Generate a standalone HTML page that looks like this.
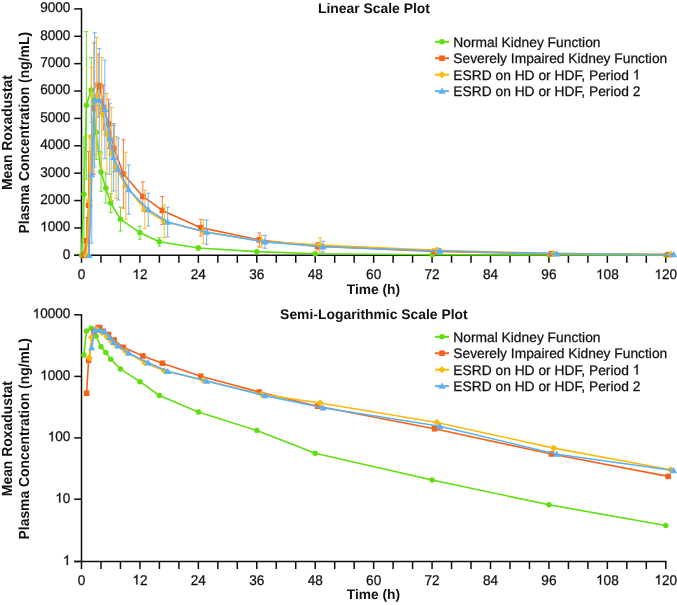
<!DOCTYPE html>
<html><head><meta charset="utf-8"><style>
html,body{margin:0;padding:0;background:#fff;overflow:hidden;width:677px;height:605px;}
svg{display:block;will-change:transform;}
text{font-family:"Liberation Sans",sans-serif;fill:#111;text-rendering:geometricPrecision;}
.tk{font-size:13.6px;stroke:#111;stroke-width:0.25px;}
.lg{font-size:13.8px;stroke:#111;stroke-width:0.25px;}
.bd{font-size:13.8px;font-weight:bold;}
.ti{font-size:13.9px;font-weight:bold;}
.yl{font-size:13.9px;font-weight:bold;}
</style></head><body>
<svg width="677" height="605" viewBox="0 0 677 605">
<rect width="677" height="605" fill="#fff"/>
<line x1="81.5" y1="8.15" x2="81.5" y2="256.05" stroke="#0d0d0d" stroke-width="1.5"/>
<line x1="74.2" y1="8.9" x2="81.5" y2="8.9" stroke="#0d0d0d" stroke-width="1.5"/>
<text transform="translate(40.15 12.30) scale(1 1.04)" class="tk">9000</text>
<line x1="74.2" y1="36.278" x2="81.5" y2="36.278" stroke="#0d0d0d" stroke-width="1.5"/>
<text transform="translate(40.15 39.68) scale(1 1.04)" class="tk">8000</text>
<line x1="74.2" y1="63.656" x2="81.5" y2="63.656" stroke="#0d0d0d" stroke-width="1.5"/>
<text transform="translate(40.15 67.06) scale(1 1.04)" class="tk">7000</text>
<line x1="74.2" y1="91.034" x2="81.5" y2="91.034" stroke="#0d0d0d" stroke-width="1.5"/>
<text transform="translate(40.15 94.43) scale(1 1.04)" class="tk">6000</text>
<line x1="74.2" y1="118.412" x2="81.5" y2="118.412" stroke="#0d0d0d" stroke-width="1.5"/>
<text transform="translate(40.15 121.81) scale(1 1.04)" class="tk">5000</text>
<line x1="74.2" y1="145.79" x2="81.5" y2="145.79" stroke="#0d0d0d" stroke-width="1.5"/>
<text transform="translate(40.15 149.19) scale(1 1.04)" class="tk">4000</text>
<line x1="74.2" y1="173.168" x2="81.5" y2="173.168" stroke="#0d0d0d" stroke-width="1.5"/>
<text transform="translate(40.15 176.57) scale(1 1.04)" class="tk">3000</text>
<line x1="74.2" y1="200.54600000000002" x2="81.5" y2="200.54600000000002" stroke="#0d0d0d" stroke-width="1.5"/>
<text transform="translate(40.15 203.95) scale(1 1.04)" class="tk">2000</text>
<line x1="74.2" y1="227.924" x2="81.5" y2="227.924" stroke="#0d0d0d" stroke-width="1.5"/>
<text transform="translate(40.15 231.32) scale(1 1.04)" class="tk"> 000</text>
<path transform="translate(40.15 231.32) scale(0.00664 -0.00664)" d="M763 0L583 0L583 1147Q518 1085 412.5 1023Q307 961 223 930L223 1104Q374 1175 487 1276Q600 1377 647 1472L763 1472Z" fill="#111" stroke="#111" stroke-width="40"/>
<line x1="74.2" y1="255.302" x2="81.5" y2="255.302" stroke="#0d0d0d" stroke-width="1.5"/>
<text transform="translate(62.84 258.70) scale(1 1.04)" class="tk">0</text>
<line x1="74.2" y1="255.3" x2="666.53" y2="255.3" stroke="#0d0d0d" stroke-width="1.5"/>
<line x1="81.50" y1="255.3" x2="81.50" y2="262.8" stroke="#0d0d0d" stroke-width="1.5"/>
<text transform="translate(77.72 278.90) scale(1 1.04)" class="tk">0</text>
<line x1="100.98" y1="255.3" x2="100.98" y2="262.8" stroke="#0d0d0d" stroke-width="1.5"/>
<line x1="120.45" y1="255.3" x2="120.45" y2="262.8" stroke="#0d0d0d" stroke-width="1.5"/>
<line x1="139.93" y1="255.3" x2="139.93" y2="262.8" stroke="#0d0d0d" stroke-width="1.5"/>
<text transform="translate(132.36 278.90) scale(1 1.04)" class="tk"> 2</text>
<path transform="translate(132.36 278.90) scale(0.00664 -0.00664)" d="M763 0L583 0L583 1147Q518 1085 412.5 1023Q307 961 223 930L223 1104Q374 1175 487 1276Q600 1377 647 1472L763 1472Z" fill="#111" stroke="#111" stroke-width="40"/>
<line x1="159.40" y1="255.3" x2="159.40" y2="262.8" stroke="#0d0d0d" stroke-width="1.5"/>
<line x1="178.88" y1="255.3" x2="178.88" y2="262.8" stroke="#0d0d0d" stroke-width="1.5"/>
<line x1="198.36" y1="255.3" x2="198.36" y2="262.8" stroke="#0d0d0d" stroke-width="1.5"/>
<text transform="translate(190.79 278.90) scale(1 1.04)" class="tk">24</text>
<line x1="217.83" y1="255.3" x2="217.83" y2="262.8" stroke="#0d0d0d" stroke-width="1.5"/>
<line x1="237.31" y1="255.3" x2="237.31" y2="262.8" stroke="#0d0d0d" stroke-width="1.5"/>
<line x1="256.78" y1="255.3" x2="256.78" y2="262.8" stroke="#0d0d0d" stroke-width="1.5"/>
<text transform="translate(249.22 278.90) scale(1 1.04)" class="tk">36</text>
<line x1="276.26" y1="255.3" x2="276.26" y2="262.8" stroke="#0d0d0d" stroke-width="1.5"/>
<line x1="295.74" y1="255.3" x2="295.74" y2="262.8" stroke="#0d0d0d" stroke-width="1.5"/>
<line x1="315.21" y1="255.3" x2="315.21" y2="262.8" stroke="#0d0d0d" stroke-width="1.5"/>
<text transform="translate(307.65 278.90) scale(1 1.04)" class="tk">48</text>
<line x1="334.69" y1="255.3" x2="334.69" y2="262.8" stroke="#0d0d0d" stroke-width="1.5"/>
<line x1="354.16" y1="255.3" x2="354.16" y2="262.8" stroke="#0d0d0d" stroke-width="1.5"/>
<line x1="373.64" y1="255.3" x2="373.64" y2="262.8" stroke="#0d0d0d" stroke-width="1.5"/>
<text transform="translate(366.08 278.90) scale(1 1.04)" class="tk">60</text>
<line x1="393.12" y1="255.3" x2="393.12" y2="262.8" stroke="#0d0d0d" stroke-width="1.5"/>
<line x1="412.59" y1="255.3" x2="412.59" y2="262.8" stroke="#0d0d0d" stroke-width="1.5"/>
<line x1="432.07" y1="255.3" x2="432.07" y2="262.8" stroke="#0d0d0d" stroke-width="1.5"/>
<text transform="translate(424.50 278.90) scale(1 1.04)" class="tk">72</text>
<line x1="451.54" y1="255.3" x2="451.54" y2="262.8" stroke="#0d0d0d" stroke-width="1.5"/>
<line x1="471.02" y1="255.3" x2="471.02" y2="262.8" stroke="#0d0d0d" stroke-width="1.5"/>
<line x1="490.50" y1="255.3" x2="490.50" y2="262.8" stroke="#0d0d0d" stroke-width="1.5"/>
<text transform="translate(482.93 278.90) scale(1 1.04)" class="tk">84</text>
<line x1="509.97" y1="255.3" x2="509.97" y2="262.8" stroke="#0d0d0d" stroke-width="1.5"/>
<line x1="529.45" y1="255.3" x2="529.45" y2="262.8" stroke="#0d0d0d" stroke-width="1.5"/>
<line x1="548.92" y1="255.3" x2="548.92" y2="262.8" stroke="#0d0d0d" stroke-width="1.5"/>
<text transform="translate(541.36 278.90) scale(1 1.04)" class="tk">96</text>
<line x1="568.40" y1="255.3" x2="568.40" y2="262.8" stroke="#0d0d0d" stroke-width="1.5"/>
<line x1="587.88" y1="255.3" x2="587.88" y2="262.8" stroke="#0d0d0d" stroke-width="1.5"/>
<line x1="607.35" y1="255.3" x2="607.35" y2="262.8" stroke="#0d0d0d" stroke-width="1.5"/>
<text transform="translate(596.01 278.90) scale(1 1.04)" class="tk"> 08</text>
<path transform="translate(596.01 278.90) scale(0.00664 -0.00664)" d="M763 0L583 0L583 1147Q518 1085 412.5 1023Q307 961 223 930L223 1104Q374 1175 487 1276Q600 1377 647 1472L763 1472Z" fill="#111" stroke="#111" stroke-width="40"/>
<line x1="626.83" y1="255.3" x2="626.83" y2="262.8" stroke="#0d0d0d" stroke-width="1.5"/>
<line x1="646.30" y1="255.3" x2="646.30" y2="262.8" stroke="#0d0d0d" stroke-width="1.5"/>
<line x1="665.78" y1="255.3" x2="665.78" y2="262.8" stroke="#0d0d0d" stroke-width="1.5"/>
<text transform="translate(654.43 278.90) scale(1 1.04)" class="tk"> 20</text>
<path transform="translate(654.43 278.90) scale(0.00664 -0.00664)" d="M763 0L583 0L583 1147Q518 1085 412.5 1023Q307 961 223 930L223 1104Q374 1175 487 1276Q600 1377 647 1472L763 1472Z" fill="#111" stroke="#111" stroke-width="40"/>
<text transform="translate(373.44 294.00) scale(1 1.0)" text-anchor="middle" class="bd">Time (h)</text>
<text transform="translate(373.90 12.50) scale(1 1.0)" text-anchor="middle" class="ti">Linear Scale Plot</text>
<text transform="translate(12.10 132.60) rotate(-90) scale(1 1.05)" text-anchor="middle" class="yl">Mean Roxadustat</text>
<text transform="translate(29.20 132.70) rotate(-90) scale(1 1.05)" text-anchor="middle" class="yl">Plasma Concentration (ng/mL)</text>
<path d="M83.93 137.03V251.47M81.93 137.03H85.93M81.93 251.47H85.93" stroke="#6ce02a" stroke-width="1" fill="none"/>
<path d="M86.37 31.62V178.92M84.37 31.62H88.37M84.37 178.92H88.37" stroke="#6ce02a" stroke-width="1" fill="none"/>
<path d="M91.24 57.63V122.24M89.24 57.63H93.24M89.24 122.24H93.24" stroke="#6ce02a" stroke-width="1" fill="none"/>
<path d="M96.11 105.41V159.34M94.11 105.41H98.11M94.11 159.34H98.11" stroke="#6ce02a" stroke-width="1" fill="none"/>
<path d="M100.98 152.91V191.24M98.98 152.91H102.98M98.98 191.24H102.98" stroke="#6ce02a" stroke-width="1" fill="none"/>
<path d="M105.84 172.89V203.01M103.84 172.89H107.84M103.84 203.01H107.84" stroke="#6ce02a" stroke-width="1" fill="none"/>
<path d="M110.71 193.48V212.54M108.71 193.48H112.71M108.71 212.54H112.71" stroke="#6ce02a" stroke-width="1" fill="none"/>
<path d="M120.45 207.22V231.10M118.45 207.22H122.45M118.45 231.10H122.45" stroke="#6ce02a" stroke-width="1" fill="none"/>
<path d="M139.93 226.22V239.20M137.93 226.22H141.93M137.93 239.20H141.93" stroke="#6ce02a" stroke-width="1" fill="none"/>
<path d="M159.40 237.59V246.07M157.40 237.59H161.40M157.40 246.07H161.40" stroke="#6ce02a" stroke-width="1" fill="none"/>
<path d="M198.36 245.96V250.07M196.36 245.96H200.36M196.36 250.07H200.36" stroke="#6ce02a" stroke-width="1" fill="none"/>
<path d="M256.78 250.43V252.89M254.78 250.43H258.78M254.78 252.89H258.78" stroke="#6ce02a" stroke-width="1" fill="none"/>
<path d="M315.21 253.06V254.42M313.21 253.06H317.21M313.21 254.42H317.21" stroke="#6ce02a" stroke-width="1" fill="none"/>
<path d="M432.07 254.45V255.00M430.07 254.45H434.07M430.07 255.00H434.07" stroke="#6ce02a" stroke-width="1" fill="none"/>
<path d="M548.92 254.96V255.18M546.92 254.96H550.92M546.92 255.18H550.92" stroke="#6ce02a" stroke-width="1" fill="none"/>
<path d="M665.78 255.14V255.25M663.78 255.14H667.78M663.78 255.25H667.78" stroke="#6ce02a" stroke-width="1" fill="none"/>
<polyline points="81.50,255.30 83.93,194.25 86.37,105.27 91.24,89.94 96.11,132.37 100.98,172.07 105.84,187.95 110.71,203.01 120.45,219.16 139.93,232.71 159.40,241.83 198.36,248.02 256.78,251.66 315.21,253.74 432.07,254.73 548.92,255.07 665.78,255.19" fill="none" stroke="#60de10" stroke-width="1.6" stroke-linejoin="round"/>
<circle cx="81.50" cy="255.30" r="2.75" fill="#60de10"/>
<circle cx="83.93" cy="194.25" r="2.75" fill="#60de10"/>
<circle cx="86.37" cy="105.27" r="2.75" fill="#60de10"/>
<circle cx="91.24" cy="89.94" r="2.75" fill="#60de10"/>
<circle cx="96.11" cy="132.37" r="2.75" fill="#60de10"/>
<circle cx="100.98" cy="172.07" r="2.75" fill="#60de10"/>
<circle cx="105.84" cy="187.95" r="2.75" fill="#60de10"/>
<circle cx="110.71" cy="203.01" r="2.75" fill="#60de10"/>
<circle cx="120.45" cy="219.16" r="2.75" fill="#60de10"/>
<circle cx="139.93" cy="232.71" r="2.75" fill="#60de10"/>
<circle cx="159.40" cy="241.83" r="2.75" fill="#60de10"/>
<circle cx="198.36" cy="248.02" r="2.75" fill="#60de10"/>
<circle cx="256.78" cy="251.66" r="2.75" fill="#60de10"/>
<circle cx="315.21" cy="253.74" r="2.75" fill="#60de10"/>
<circle cx="432.07" cy="254.73" r="2.75" fill="#60de10"/>
<circle cx="548.92" cy="255.07" r="2.75" fill="#60de10"/>
<circle cx="665.78" cy="255.19" r="2.75" fill="#60de10"/>
<path d="M86.61 217.38V255.30M84.61 217.38H88.61M84.61 255.30H88.61" stroke="#f57a45" stroke-width="1" fill="none"/>
<path d="M88.56 151.40V255.30M86.56 151.40H90.56M86.56 255.30H90.56" stroke="#f57a45" stroke-width="1" fill="none"/>
<path d="M93.92 42.85V174.26M91.92 42.85H95.92M91.92 174.26H95.92" stroke="#f57a45" stroke-width="1" fill="none"/>
<path d="M98.15 54.07V117.04M96.15 54.07H100.15M96.15 117.04H100.15" stroke="#f57a45" stroke-width="1" fill="none"/>
<path d="M103.41 85.01V129.91M101.41 85.01H105.41M101.41 129.91H105.41" stroke="#f57a45" stroke-width="1" fill="none"/>
<path d="M108.52 99.25V148.53M106.52 99.25H110.52M106.52 148.53H110.52" stroke="#f57a45" stroke-width="1" fill="none"/>
<path d="M114.12 125.25V171.80M112.12 125.25H116.12M112.12 171.80H116.12" stroke="#f57a45" stroke-width="1" fill="none"/>
<path d="M123.37 139.76V208.21M121.37 139.76H125.37M121.37 208.21H125.37" stroke="#f57a45" stroke-width="1" fill="none"/>
<path d="M142.85 181.87V211.00M140.85 181.87H144.85M140.85 211.00H144.85" stroke="#f57a45" stroke-width="1" fill="none"/>
<path d="M162.33 196.44V224.36M160.33 196.44H164.33M160.33 224.36H164.33" stroke="#f57a45" stroke-width="1" fill="none"/>
<path d="M200.79 219.27V236.03M198.79 219.27H202.79M198.79 236.03H202.79" stroke="#f57a45" stroke-width="1" fill="none"/>
<path d="M259.22 232.93V247.00M257.22 232.93H261.22M257.22 247.00H261.22" stroke="#f57a45" stroke-width="1" fill="none"/>
<path d="M317.65 242.57V249.96M315.65 242.57H319.65M315.65 249.96H319.65" stroke="#f57a45" stroke-width="1" fill="none"/>
<path d="M434.50 249.77V253.06M432.50 249.77H436.50M432.50 253.06H436.50" stroke="#f57a45" stroke-width="1" fill="none"/>
<path d="M551.36 253.10V254.47M549.36 253.10H553.36M549.36 254.47H553.36" stroke="#f57a45" stroke-width="1" fill="none"/>
<path d="M668.21 254.37V254.92M666.21 254.37H670.21M666.21 254.92H670.21" stroke="#f57a45" stroke-width="1" fill="none"/>
<polyline points="83.93,255.30 86.61,240.65 88.56,205.20 93.92,108.55 98.15,85.56 99.76,86.10 103.41,107.46 108.52,123.89 114.12,148.53 123.37,173.99 142.85,196.44 162.33,210.40 200.79,227.65 259.22,239.97 317.65,246.27 434.50,251.41 551.36,253.78 668.21,254.64" fill="none" stroke="#f5621c" stroke-width="1.6" stroke-linejoin="round"/>
<rect x="81.13" y="252.50" width="5.60" height="5.60" fill="#f5621c"/>
<rect x="83.81" y="237.85" width="5.60" height="5.60" fill="#f5621c"/>
<rect x="85.76" y="202.40" width="5.60" height="5.60" fill="#f5621c"/>
<rect x="91.12" y="105.75" width="5.60" height="5.60" fill="#f5621c"/>
<rect x="95.35" y="82.76" width="5.60" height="5.60" fill="#f5621c"/>
<rect x="96.96" y="83.30" width="5.60" height="5.60" fill="#f5621c"/>
<rect x="100.61" y="104.66" width="5.60" height="5.60" fill="#f5621c"/>
<rect x="105.72" y="121.09" width="5.60" height="5.60" fill="#f5621c"/>
<rect x="111.32" y="145.73" width="5.60" height="5.60" fill="#f5621c"/>
<rect x="120.57" y="171.19" width="5.60" height="5.60" fill="#f5621c"/>
<rect x="140.05" y="193.64" width="5.60" height="5.60" fill="#f5621c"/>
<rect x="159.53" y="207.60" width="5.60" height="5.60" fill="#f5621c"/>
<rect x="197.99" y="224.85" width="5.60" height="5.60" fill="#f5621c"/>
<rect x="256.42" y="237.17" width="5.60" height="5.60" fill="#f5621c"/>
<rect x="314.85" y="243.47" width="5.60" height="5.60" fill="#f5621c"/>
<rect x="431.70" y="248.61" width="5.60" height="5.60" fill="#f5621c"/>
<rect x="548.56" y="250.98" width="5.60" height="5.60" fill="#f5621c"/>
<rect x="665.41" y="251.84" width="5.60" height="5.60" fill="#f5621c"/>
<path d="M89.29 135.22V255.30M87.29 135.22H91.29M87.29 255.30H91.29" stroke="#ffbd28" stroke-width="1" fill="none"/>
<path d="M91.48 67.49V206.02M89.48 67.49H93.48M89.48 206.02H93.48" stroke="#ffbd28" stroke-width="1" fill="none"/>
<path d="M96.59 37.37V154.55M94.59 37.37H98.59M94.59 154.55H98.59" stroke="#ffbd28" stroke-width="1" fill="none"/>
<path d="M101.71 57.63V168.24M99.71 57.63H103.71M99.71 168.24H103.71" stroke="#ffbd28" stroke-width="1" fill="none"/>
<path d="M106.82 93.50V174.53M104.82 93.50H108.82M104.82 174.53H108.82" stroke="#ffbd28" stroke-width="1" fill="none"/>
<path d="M111.69 107.46V200.54M109.69 107.46H113.69M109.69 200.54H113.69" stroke="#ffbd28" stroke-width="1" fill="none"/>
<path d="M116.07 136.48V198.35M114.07 136.48H118.07M114.07 198.35H118.07" stroke="#ffbd28" stroke-width="1" fill="none"/>
<path d="M125.81 152.28V219.24M123.81 152.28H127.81M123.81 219.24H127.81" stroke="#ffbd28" stroke-width="1" fill="none"/>
<path d="M144.80 190.41V228.74M142.80 190.41H146.80M142.80 228.74H146.80" stroke="#ffbd28" stroke-width="1" fill="none"/>
<path d="M164.27 204.98V237.83M162.27 204.98H166.27M162.27 237.83H166.27" stroke="#ffbd28" stroke-width="1" fill="none"/>
<path d="M203.22 219.60V243.36M201.22 219.60H205.22M201.22 243.36H205.22" stroke="#ffbd28" stroke-width="1" fill="none"/>
<path d="M261.65 235.34V247.11M259.65 235.34H263.65M259.65 247.11H263.65" stroke="#ffbd28" stroke-width="1" fill="none"/>
<path d="M320.08 238.05V252.18M318.08 238.05H322.08M318.08 252.18H322.08" stroke="#ffbd28" stroke-width="1" fill="none"/>
<path d="M436.94 247.91V252.84M434.94 247.91H438.94M434.94 252.84H438.94" stroke="#ffbd28" stroke-width="1" fill="none"/>
<path d="M553.79 252.59V254.23M551.79 252.59H555.79M551.79 254.23H555.79" stroke="#ffbd28" stroke-width="1" fill="none"/>
<path d="M670.65 254.05V254.87M668.65 254.05H672.65M668.65 254.87H672.65" stroke="#ffbd28" stroke-width="1" fill="none"/>
<polyline points="86.37,255.30 89.29,200.27 91.48,136.75 96.59,95.96 101.71,112.93 106.82,134.02 111.69,154.00 116.07,167.42 125.81,185.76 144.80,209.58 164.27,221.41 203.22,231.48 261.65,241.23 320.08,245.12 436.94,250.37 553.79,253.41 670.65,254.46" fill="none" stroke="#fbb90c" stroke-width="1.6" stroke-linejoin="round"/>
<path d="M86.37 251.70L89.97 255.30L86.37 258.90L82.77 255.30Z" fill="#fbb90c"/>
<path d="M89.29 196.67L92.89 200.27L89.29 203.87L85.69 200.27Z" fill="#fbb90c"/>
<path d="M91.48 133.15L95.08 136.75L91.48 140.35L87.88 136.75Z" fill="#fbb90c"/>
<path d="M96.59 92.36L100.19 95.96L96.59 99.56L92.99 95.96Z" fill="#fbb90c"/>
<path d="M101.71 109.33L105.31 112.93L101.71 116.53L98.11 112.93Z" fill="#fbb90c"/>
<path d="M106.82 130.42L110.42 134.02L106.82 137.62L103.22 134.02Z" fill="#fbb90c"/>
<path d="M111.69 150.40L115.29 154.00L111.69 157.60L108.09 154.00Z" fill="#fbb90c"/>
<path d="M116.07 163.82L119.67 167.42L116.07 171.02L112.47 167.42Z" fill="#fbb90c"/>
<path d="M125.81 182.16L129.41 185.76L125.81 189.36L122.21 185.76Z" fill="#fbb90c"/>
<path d="M144.80 205.98L148.40 209.58L144.80 213.18L141.20 209.58Z" fill="#fbb90c"/>
<path d="M164.27 217.81L167.87 221.41L164.27 225.01L160.67 221.41Z" fill="#fbb90c"/>
<path d="M203.22 227.88L206.82 231.48L203.22 235.08L199.62 231.48Z" fill="#fbb90c"/>
<path d="M261.65 237.63L265.25 241.23L261.65 244.83L258.05 241.23Z" fill="#fbb90c"/>
<path d="M320.08 241.52L323.68 245.12L320.08 248.72L316.48 245.12Z" fill="#fbb90c"/>
<path d="M436.94 246.77L440.54 250.37L436.94 253.97L433.34 250.37Z" fill="#fbb90c"/>
<path d="M553.79 249.81L557.39 253.41L553.79 257.01L550.19 253.41Z" fill="#fbb90c"/>
<path d="M670.65 250.86L674.25 254.46L670.65 258.06L667.05 254.46Z" fill="#fbb90c"/>
<path d="M91.72 106.09V242.98M89.72 106.09H93.72M89.72 242.98H93.72" stroke="#6cb4f5" stroke-width="1" fill="none"/>
<path d="M94.65 32.72V166.87M92.65 32.72H96.65M92.65 166.87H96.65" stroke="#6cb4f5" stroke-width="1" fill="none"/>
<path d="M99.27 48.60V151.54M97.27 48.60H101.27M97.27 151.54H101.27" stroke="#6cb4f5" stroke-width="1" fill="none"/>
<path d="M104.87 60.09V158.66M102.87 60.09H106.87M102.87 158.66H106.87" stroke="#6cb4f5" stroke-width="1" fill="none"/>
<path d="M109.74 103.08V174.26M107.74 103.08H111.74M107.74 174.26H111.74" stroke="#6cb4f5" stroke-width="1" fill="none"/>
<path d="M113.64 123.61V190.96M111.64 123.61H115.64M111.64 190.96H115.64" stroke="#6cb4f5" stroke-width="1" fill="none"/>
<path d="M118.26 138.12V200.00M116.26 138.12H120.26M116.26 200.00H120.26" stroke="#6cb4f5" stroke-width="1" fill="none"/>
<path d="M128.73 165.03V214.15M126.73 165.03H130.73M126.73 214.15H130.73" stroke="#6cb4f5" stroke-width="1" fill="none"/>
<path d="M148.21 193.15V226.01M146.21 193.15H150.21M146.21 226.01H150.21" stroke="#6cb4f5" stroke-width="1" fill="none"/>
<path d="M167.68 207.20V236.77M165.68 207.20H169.68M165.68 236.77H169.68" stroke="#6cb4f5" stroke-width="1" fill="none"/>
<path d="M206.63 219.98V244.35M204.63 219.98H208.63M204.63 244.35H208.63" stroke="#6cb4f5" stroke-width="1" fill="none"/>
<path d="M265.06 235.45V248.32M263.06 235.45H267.06M263.06 248.32H267.06" stroke="#6cb4f5" stroke-width="1" fill="none"/>
<path d="M323.00 241.31V252.26M321.00 241.31H325.00M321.00 252.26H325.00" stroke="#6cb4f5" stroke-width="1" fill="none"/>
<path d="M439.86 248.84V253.22M437.86 248.84H441.86M437.86 253.22H441.86" stroke="#6cb4f5" stroke-width="1" fill="none"/>
<path d="M556.71 252.97V254.62M554.71 252.97H558.71M554.71 254.62H558.71" stroke="#6cb4f5" stroke-width="1" fill="none"/>
<path d="M673.57 254.07V254.89M671.57 254.07H675.57M671.57 254.89H675.57" stroke="#6cb4f5" stroke-width="1" fill="none"/>
<polyline points="89.05,255.30 91.72,174.53 94.65,99.79 99.27,100.07 104.87,109.38 109.74,138.67 113.64,157.29 118.26,169.06 128.73,189.59 148.21,209.58 167.68,221.98 206.63,232.17 265.06,241.88 323.00,246.79 439.86,251.03 556.71,253.79 673.57,254.48" fill="none" stroke="#5cb0f5" stroke-width="1.6" stroke-linejoin="round"/>
<path d="M89.05 251.70L92.65 258.00L85.45 258.00Z" fill="#5cb0f5"/>
<path d="M91.72 170.93L95.32 177.23L88.12 177.23Z" fill="#5cb0f5"/>
<path d="M94.65 96.19L98.25 102.49L91.05 102.49Z" fill="#5cb0f5"/>
<path d="M99.27 96.47L102.87 102.77L95.67 102.77Z" fill="#5cb0f5"/>
<path d="M104.87 105.78L108.47 112.08L101.27 112.08Z" fill="#5cb0f5"/>
<path d="M109.74 135.07L113.34 141.37L106.14 141.37Z" fill="#5cb0f5"/>
<path d="M113.64 153.69L117.24 159.99L110.04 159.99Z" fill="#5cb0f5"/>
<path d="M118.26 165.46L121.86 171.76L114.66 171.76Z" fill="#5cb0f5"/>
<path d="M128.73 185.99L132.33 192.29L125.13 192.29Z" fill="#5cb0f5"/>
<path d="M148.21 205.98L151.81 212.28L144.61 212.28Z" fill="#5cb0f5"/>
<path d="M167.68 218.38L171.28 224.68L164.08 224.68Z" fill="#5cb0f5"/>
<path d="M206.63 228.57L210.23 234.87L203.03 234.87Z" fill="#5cb0f5"/>
<path d="M265.06 238.28L268.66 244.58L261.46 244.58Z" fill="#5cb0f5"/>
<path d="M323.00 243.19L326.60 249.49L319.40 249.49Z" fill="#5cb0f5"/>
<path d="M439.86 247.43L443.46 253.73L436.26 253.73Z" fill="#5cb0f5"/>
<path d="M556.71 250.19L560.31 256.49L553.11 256.49Z" fill="#5cb0f5"/>
<path d="M673.57 250.88L677.17 257.18L669.97 257.18Z" fill="#5cb0f5"/>
<line x1="435" y1="41.80" x2="449" y2="41.80" stroke="#60de10" stroke-width="2"/>
<circle cx="442.00" cy="41.80" r="2.75" fill="#60de10"/>
<text transform="translate(453.30 46.60) scale(1 1.0)" class="lg">Normal Kidney Function</text>
<line x1="435" y1="58.25" x2="449" y2="58.25" stroke="#f5621c" stroke-width="2"/>
<rect x="439.20" y="55.45" width="5.60" height="5.60" fill="#f5621c"/>
<text transform="translate(453.30 63.05) scale(1 1.0)" class="lg">Severely Impaired Kidney Function</text>
<line x1="435" y1="74.70" x2="449" y2="74.70" stroke="#fbb90c" stroke-width="2"/>
<path d="M442.00 71.10L445.60 74.70L442.00 78.30L438.40 74.70Z" fill="#fbb90c"/>
<text transform="translate(453.30 79.50) scale(1 1.0)" class="lg">ESRD on HD or HDF, Period  </text>
<path transform="translate(632.58 79.50) scale(0.00674 -0.00674)" d="M763 0L583 0L583 1147Q518 1085 412.5 1023Q307 961 223 930L223 1104Q374 1175 487 1276Q600 1377 647 1472L763 1472Z" fill="#111" stroke="#111" stroke-width="40"/>
<line x1="435" y1="91.15" x2="449" y2="91.15" stroke="#5cb0f5" stroke-width="2"/>
<path d="M442.00 87.55L445.60 93.85L438.40 93.85Z" fill="#5cb0f5"/>
<text transform="translate(453.30 95.95) scale(1 1.0)" class="lg">ESRD on HD or HDF, Period 2</text>
<line x1="81.5" y1="314.05" x2="81.5" y2="562.25" stroke="#0d0d0d" stroke-width="1.5"/>
<line x1="74.2" y1="314.8" x2="81.5" y2="314.8" stroke="#0d0d0d" stroke-width="1.5"/>
<text transform="translate(32.58 318.20) scale(1 1.04)" class="tk"> 0000</text>
<path transform="translate(32.58 318.20) scale(0.00664 -0.00664)" d="M763 0L583 0L583 1147Q518 1085 412.5 1023Q307 961 223 930L223 1104Q374 1175 487 1276Q600 1377 647 1472L763 1472Z" fill="#111" stroke="#111" stroke-width="40"/>
<line x1="74.2" y1="376.4" x2="81.5" y2="376.4" stroke="#0d0d0d" stroke-width="1.5"/>
<text transform="translate(40.15 379.80) scale(1 1.04)" class="tk"> 000</text>
<path transform="translate(40.15 379.80) scale(0.00664 -0.00664)" d="M763 0L583 0L583 1147Q518 1085 412.5 1023Q307 961 223 930L223 1104Q374 1175 487 1276Q600 1377 647 1472L763 1472Z" fill="#111" stroke="#111" stroke-width="40"/>
<line x1="74.2" y1="437.9" x2="81.5" y2="437.9" stroke="#0d0d0d" stroke-width="1.5"/>
<text transform="translate(47.71 441.30) scale(1 1.04)" class="tk"> 00</text>
<path transform="translate(47.71 441.30) scale(0.00664 -0.00664)" d="M763 0L583 0L583 1147Q518 1085 412.5 1023Q307 961 223 930L223 1104Q374 1175 487 1276Q600 1377 647 1472L763 1472Z" fill="#111" stroke="#111" stroke-width="40"/>
<line x1="74.2" y1="499.2" x2="81.5" y2="499.2" stroke="#0d0d0d" stroke-width="1.5"/>
<text transform="translate(55.27 502.60) scale(1 1.04)" class="tk"> 0</text>
<path transform="translate(55.27 502.60) scale(0.00664 -0.00664)" d="M763 0L583 0L583 1147Q518 1085 412.5 1023Q307 961 223 930L223 1104Q374 1175 487 1276Q600 1377 647 1472L763 1472Z" fill="#111" stroke="#111" stroke-width="40"/>
<line x1="74.2" y1="561.5" x2="81.5" y2="561.5" stroke="#0d0d0d" stroke-width="1.5"/>
<text transform="translate(62.84 564.90) scale(1 1.04)" class="tk"> </text>
<path transform="translate(62.84 564.90) scale(0.00664 -0.00664)" d="M763 0L583 0L583 1147Q518 1085 412.5 1023Q307 961 223 930L223 1104Q374 1175 487 1276Q600 1377 647 1472L763 1472Z" fill="#111" stroke="#111" stroke-width="40"/>
<line x1="74.2" y1="561.5" x2="666.53" y2="561.5" stroke="#0d0d0d" stroke-width="1.5"/>
<line x1="81.50" y1="561.5" x2="81.50" y2="569.0" stroke="#0d0d0d" stroke-width="1.5"/>
<text transform="translate(77.72 584.50) scale(1 1.04)" class="tk">0</text>
<line x1="100.98" y1="561.5" x2="100.98" y2="569.0" stroke="#0d0d0d" stroke-width="1.5"/>
<line x1="120.45" y1="561.5" x2="120.45" y2="569.0" stroke="#0d0d0d" stroke-width="1.5"/>
<line x1="139.93" y1="561.5" x2="139.93" y2="569.0" stroke="#0d0d0d" stroke-width="1.5"/>
<text transform="translate(132.36 584.50) scale(1 1.04)" class="tk"> 2</text>
<path transform="translate(132.36 584.50) scale(0.00664 -0.00664)" d="M763 0L583 0L583 1147Q518 1085 412.5 1023Q307 961 223 930L223 1104Q374 1175 487 1276Q600 1377 647 1472L763 1472Z" fill="#111" stroke="#111" stroke-width="40"/>
<line x1="159.40" y1="561.5" x2="159.40" y2="569.0" stroke="#0d0d0d" stroke-width="1.5"/>
<line x1="178.88" y1="561.5" x2="178.88" y2="569.0" stroke="#0d0d0d" stroke-width="1.5"/>
<line x1="198.36" y1="561.5" x2="198.36" y2="569.0" stroke="#0d0d0d" stroke-width="1.5"/>
<text transform="translate(190.79 584.50) scale(1 1.04)" class="tk">24</text>
<line x1="217.83" y1="561.5" x2="217.83" y2="569.0" stroke="#0d0d0d" stroke-width="1.5"/>
<line x1="237.31" y1="561.5" x2="237.31" y2="569.0" stroke="#0d0d0d" stroke-width="1.5"/>
<line x1="256.78" y1="561.5" x2="256.78" y2="569.0" stroke="#0d0d0d" stroke-width="1.5"/>
<text transform="translate(249.22 584.50) scale(1 1.04)" class="tk">36</text>
<line x1="276.26" y1="561.5" x2="276.26" y2="569.0" stroke="#0d0d0d" stroke-width="1.5"/>
<line x1="295.74" y1="561.5" x2="295.74" y2="569.0" stroke="#0d0d0d" stroke-width="1.5"/>
<line x1="315.21" y1="561.5" x2="315.21" y2="569.0" stroke="#0d0d0d" stroke-width="1.5"/>
<text transform="translate(307.65 584.50) scale(1 1.04)" class="tk">48</text>
<line x1="334.69" y1="561.5" x2="334.69" y2="569.0" stroke="#0d0d0d" stroke-width="1.5"/>
<line x1="354.16" y1="561.5" x2="354.16" y2="569.0" stroke="#0d0d0d" stroke-width="1.5"/>
<line x1="373.64" y1="561.5" x2="373.64" y2="569.0" stroke="#0d0d0d" stroke-width="1.5"/>
<text transform="translate(366.08 584.50) scale(1 1.04)" class="tk">60</text>
<line x1="393.12" y1="561.5" x2="393.12" y2="569.0" stroke="#0d0d0d" stroke-width="1.5"/>
<line x1="412.59" y1="561.5" x2="412.59" y2="569.0" stroke="#0d0d0d" stroke-width="1.5"/>
<line x1="432.07" y1="561.5" x2="432.07" y2="569.0" stroke="#0d0d0d" stroke-width="1.5"/>
<text transform="translate(424.50 584.50) scale(1 1.04)" class="tk">72</text>
<line x1="451.54" y1="561.5" x2="451.54" y2="569.0" stroke="#0d0d0d" stroke-width="1.5"/>
<line x1="471.02" y1="561.5" x2="471.02" y2="569.0" stroke="#0d0d0d" stroke-width="1.5"/>
<line x1="490.50" y1="561.5" x2="490.50" y2="569.0" stroke="#0d0d0d" stroke-width="1.5"/>
<text transform="translate(482.93 584.50) scale(1 1.04)" class="tk">84</text>
<line x1="509.97" y1="561.5" x2="509.97" y2="569.0" stroke="#0d0d0d" stroke-width="1.5"/>
<line x1="529.45" y1="561.5" x2="529.45" y2="569.0" stroke="#0d0d0d" stroke-width="1.5"/>
<line x1="548.92" y1="561.5" x2="548.92" y2="569.0" stroke="#0d0d0d" stroke-width="1.5"/>
<text transform="translate(541.36 584.50) scale(1 1.04)" class="tk">96</text>
<line x1="568.40" y1="561.5" x2="568.40" y2="569.0" stroke="#0d0d0d" stroke-width="1.5"/>
<line x1="587.88" y1="561.5" x2="587.88" y2="569.0" stroke="#0d0d0d" stroke-width="1.5"/>
<line x1="607.35" y1="561.5" x2="607.35" y2="569.0" stroke="#0d0d0d" stroke-width="1.5"/>
<text transform="translate(596.01 584.50) scale(1 1.04)" class="tk"> 08</text>
<path transform="translate(596.01 584.50) scale(0.00664 -0.00664)" d="M763 0L583 0L583 1147Q518 1085 412.5 1023Q307 961 223 930L223 1104Q374 1175 487 1276Q600 1377 647 1472L763 1472Z" fill="#111" stroke="#111" stroke-width="40"/>
<line x1="626.83" y1="561.5" x2="626.83" y2="569.0" stroke="#0d0d0d" stroke-width="1.5"/>
<line x1="646.30" y1="561.5" x2="646.30" y2="569.0" stroke="#0d0d0d" stroke-width="1.5"/>
<line x1="665.78" y1="561.5" x2="665.78" y2="569.0" stroke="#0d0d0d" stroke-width="1.5"/>
<text transform="translate(654.43 584.50) scale(1 1.04)" class="tk"> 20</text>
<path transform="translate(654.43 584.50) scale(0.00664 -0.00664)" d="M763 0L583 0L583 1147Q518 1085 412.5 1023Q307 961 223 930L223 1104Q374 1175 487 1276Q600 1377 647 1472L763 1472Z" fill="#111" stroke="#111" stroke-width="40"/>
<text transform="translate(373.44 599.40) scale(1 1.0)" text-anchor="middle" class="bd">Time (h)</text>
<text transform="translate(373.90 319.20) scale(1 1.0)" text-anchor="middle" class="ti">Semi-Logarithmic Scale Plot</text>
<text transform="translate(12.10 438.65) rotate(-90) scale(1 1.05)" text-anchor="middle" class="yl">Mean Roxadustat</text>
<text transform="translate(29.20 438.75) rotate(-90) scale(1 1.05)" text-anchor="middle" class="yl">Plasma Concentration (ng/mL)</text>
<polyline points="83.93,355.01 86.37,330.93 91.24,328.32 96.11,336.27 100.98,346.71 105.84,352.38 110.71,359.16 120.45,369.05 139.93,381.64 159.40,395.49 198.36,411.96 256.78,430.52 315.21,453.22 432.07,479.96 548.92,504.82 665.78,525.46" fill="none" stroke="#60de10" stroke-width="1.6" stroke-linejoin="round"/>
<circle cx="83.93" cy="355.01" r="2.75" fill="#60de10"/>
<circle cx="86.37" cy="330.93" r="2.75" fill="#60de10"/>
<circle cx="91.24" cy="328.32" r="2.75" fill="#60de10"/>
<circle cx="96.11" cy="336.27" r="2.75" fill="#60de10"/>
<circle cx="100.98" cy="346.71" r="2.75" fill="#60de10"/>
<circle cx="105.84" cy="352.38" r="2.75" fill="#60de10"/>
<circle cx="110.71" cy="359.16" r="2.75" fill="#60de10"/>
<circle cx="120.45" cy="369.05" r="2.75" fill="#60de10"/>
<circle cx="139.93" cy="381.64" r="2.75" fill="#60de10"/>
<circle cx="159.40" cy="395.49" r="2.75" fill="#60de10"/>
<circle cx="198.36" cy="411.96" r="2.75" fill="#60de10"/>
<circle cx="256.78" cy="430.52" r="2.75" fill="#60de10"/>
<circle cx="315.21" cy="453.22" r="2.75" fill="#60de10"/>
<circle cx="432.07" cy="479.96" r="2.75" fill="#60de10"/>
<circle cx="548.92" cy="504.82" r="2.75" fill="#60de10"/>
<circle cx="665.78" cy="525.46" r="2.75" fill="#60de10"/>
<polyline points="86.61,393.24 88.56,360.30 93.92,331.52 98.15,327.62 99.76,327.71 103.41,331.32 108.52,334.48 114.12,340.04 123.37,347.34 142.85,355.99 162.33,363.24 200.79,376.22 259.22,392.02 317.65,406.18 434.50,428.77 551.36,453.98 668.21,476.38" fill="none" stroke="#f5621c" stroke-width="1.6" stroke-linejoin="round"/>
<rect x="83.81" y="390.44" width="5.60" height="5.60" fill="#f5621c"/>
<rect x="85.76" y="357.50" width="5.60" height="5.60" fill="#f5621c"/>
<rect x="91.12" y="328.72" width="5.60" height="5.60" fill="#f5621c"/>
<rect x="95.35" y="324.82" width="5.60" height="5.60" fill="#f5621c"/>
<rect x="96.96" y="324.91" width="5.60" height="5.60" fill="#f5621c"/>
<rect x="100.61" y="328.52" width="5.60" height="5.60" fill="#f5621c"/>
<rect x="105.72" y="331.68" width="5.60" height="5.60" fill="#f5621c"/>
<rect x="111.32" y="337.24" width="5.60" height="5.60" fill="#f5621c"/>
<rect x="120.57" y="344.54" width="5.60" height="5.60" fill="#f5621c"/>
<rect x="140.05" y="353.19" width="5.60" height="5.60" fill="#f5621c"/>
<rect x="159.53" y="360.44" width="5.60" height="5.60" fill="#f5621c"/>
<rect x="197.99" y="373.42" width="5.60" height="5.60" fill="#f5621c"/>
<rect x="256.42" y="389.22" width="5.60" height="5.60" fill="#f5621c"/>
<rect x="314.85" y="403.38" width="5.60" height="5.60" fill="#f5621c"/>
<rect x="431.70" y="425.97" width="5.60" height="5.60" fill="#f5621c"/>
<rect x="548.56" y="451.18" width="5.60" height="5.60" fill="#f5621c"/>
<rect x="665.41" y="473.58" width="5.60" height="5.60" fill="#f5621c"/>
<polyline points="89.29,357.79 91.48,337.24 96.59,329.32 101.71,332.33 106.82,336.63 111.69,341.45 116.07,345.25 125.81,351.52 144.80,362.76 164.27,370.77 203.22,380.22 261.65,394.31 320.08,402.97 436.94,422.42 553.79,448.10 670.65,469.79" fill="none" stroke="#fbb90c" stroke-width="1.6" stroke-linejoin="round"/>
<path d="M89.29 354.19L92.89 357.79L89.29 361.39L85.69 357.79Z" fill="#fbb90c"/>
<path d="M91.48 333.64L95.08 337.24L91.48 340.84L87.88 337.24Z" fill="#fbb90c"/>
<path d="M96.59 325.72L100.19 329.32L96.59 332.92L92.99 329.32Z" fill="#fbb90c"/>
<path d="M101.71 328.73L105.31 332.33L101.71 335.93L98.11 332.33Z" fill="#fbb90c"/>
<path d="M106.82 333.03L110.42 336.63L106.82 340.23L103.22 336.63Z" fill="#fbb90c"/>
<path d="M111.69 337.85L115.29 341.45L111.69 345.05L108.09 341.45Z" fill="#fbb90c"/>
<path d="M116.07 341.65L119.67 345.25L116.07 348.85L112.47 345.25Z" fill="#fbb90c"/>
<path d="M125.81 347.92L129.41 351.52L125.81 355.12L122.21 351.52Z" fill="#fbb90c"/>
<path d="M144.80 359.16L148.40 362.76L144.80 366.36L141.20 362.76Z" fill="#fbb90c"/>
<path d="M164.27 367.17L167.87 370.77L164.27 374.37L160.67 370.77Z" fill="#fbb90c"/>
<path d="M203.22 376.62L206.82 380.22L203.22 383.82L199.62 380.22Z" fill="#fbb90c"/>
<path d="M261.65 390.71L265.25 394.31L261.65 397.91L258.05 394.31Z" fill="#fbb90c"/>
<path d="M320.08 399.37L323.68 402.97L320.08 406.57L316.48 402.97Z" fill="#fbb90c"/>
<path d="M436.94 418.82L440.54 422.42L436.94 426.02L433.34 422.42Z" fill="#fbb90c"/>
<path d="M553.79 444.50L557.39 448.10L553.79 451.70L550.19 448.10Z" fill="#fbb90c"/>
<path d="M670.65 466.19L674.25 469.79L670.65 473.39L667.05 469.79Z" fill="#fbb90c"/>
<polyline points="91.72,347.52 94.65,329.97 99.27,330.02 104.87,331.67 109.74,337.67 113.64,342.33 118.26,345.76 128.73,353.04 148.21,362.76 167.68,371.23 206.63,381.00 265.06,395.60 323.00,407.77 439.86,426.25 556.71,454.17 673.57,470.50" fill="none" stroke="#5cb0f5" stroke-width="1.6" stroke-linejoin="round"/>
<path d="M91.72 343.92L95.32 350.22L88.12 350.22Z" fill="#5cb0f5"/>
<path d="M94.65 326.37L98.25 332.67L91.05 332.67Z" fill="#5cb0f5"/>
<path d="M99.27 326.42L102.87 332.72L95.67 332.72Z" fill="#5cb0f5"/>
<path d="M104.87 328.07L108.47 334.37L101.27 334.37Z" fill="#5cb0f5"/>
<path d="M109.74 334.07L113.34 340.37L106.14 340.37Z" fill="#5cb0f5"/>
<path d="M113.64 338.73L117.24 345.03L110.04 345.03Z" fill="#5cb0f5"/>
<path d="M118.26 342.16L121.86 348.46L114.66 348.46Z" fill="#5cb0f5"/>
<path d="M128.73 349.44L132.33 355.74L125.13 355.74Z" fill="#5cb0f5"/>
<path d="M148.21 359.16L151.81 365.46L144.61 365.46Z" fill="#5cb0f5"/>
<path d="M167.68 367.63L171.28 373.93L164.08 373.93Z" fill="#5cb0f5"/>
<path d="M206.63 377.40L210.23 383.70L203.03 383.70Z" fill="#5cb0f5"/>
<path d="M265.06 392.00L268.66 398.30L261.46 398.30Z" fill="#5cb0f5"/>
<path d="M323.00 404.17L326.60 410.47L319.40 410.47Z" fill="#5cb0f5"/>
<path d="M439.86 422.65L443.46 428.95L436.26 428.95Z" fill="#5cb0f5"/>
<path d="M556.71 450.57L560.31 456.87L553.11 456.87Z" fill="#5cb0f5"/>
<path d="M673.57 466.90L677.17 473.20L669.97 473.20Z" fill="#5cb0f5"/>
<line x1="435" y1="336.80" x2="449" y2="336.80" stroke="#60de10" stroke-width="2"/>
<circle cx="442.00" cy="336.80" r="2.75" fill="#60de10"/>
<text transform="translate(453.30 341.60) scale(1 1.0)" class="lg">Normal Kidney Function</text>
<line x1="435" y1="353.25" x2="449" y2="353.25" stroke="#f5621c" stroke-width="2"/>
<rect x="439.20" y="350.45" width="5.60" height="5.60" fill="#f5621c"/>
<text transform="translate(453.30 358.05) scale(1 1.0)" class="lg">Severely Impaired Kidney Function</text>
<line x1="435" y1="369.70" x2="449" y2="369.70" stroke="#fbb90c" stroke-width="2"/>
<path d="M442.00 366.10L445.60 369.70L442.00 373.30L438.40 369.70Z" fill="#fbb90c"/>
<text transform="translate(453.30 374.50) scale(1 1.0)" class="lg">ESRD on HD or HDF, Period  </text>
<path transform="translate(632.58 374.50) scale(0.00674 -0.00674)" d="M763 0L583 0L583 1147Q518 1085 412.5 1023Q307 961 223 930L223 1104Q374 1175 487 1276Q600 1377 647 1472L763 1472Z" fill="#111" stroke="#111" stroke-width="40"/>
<line x1="435" y1="386.15" x2="449" y2="386.15" stroke="#5cb0f5" stroke-width="2"/>
<path d="M442.00 382.55L445.60 388.85L438.40 388.85Z" fill="#5cb0f5"/>
<text transform="translate(453.30 390.95) scale(1 1.0)" class="lg">ESRD on HD or HDF, Period 2</text>
</svg>
</body></html>
